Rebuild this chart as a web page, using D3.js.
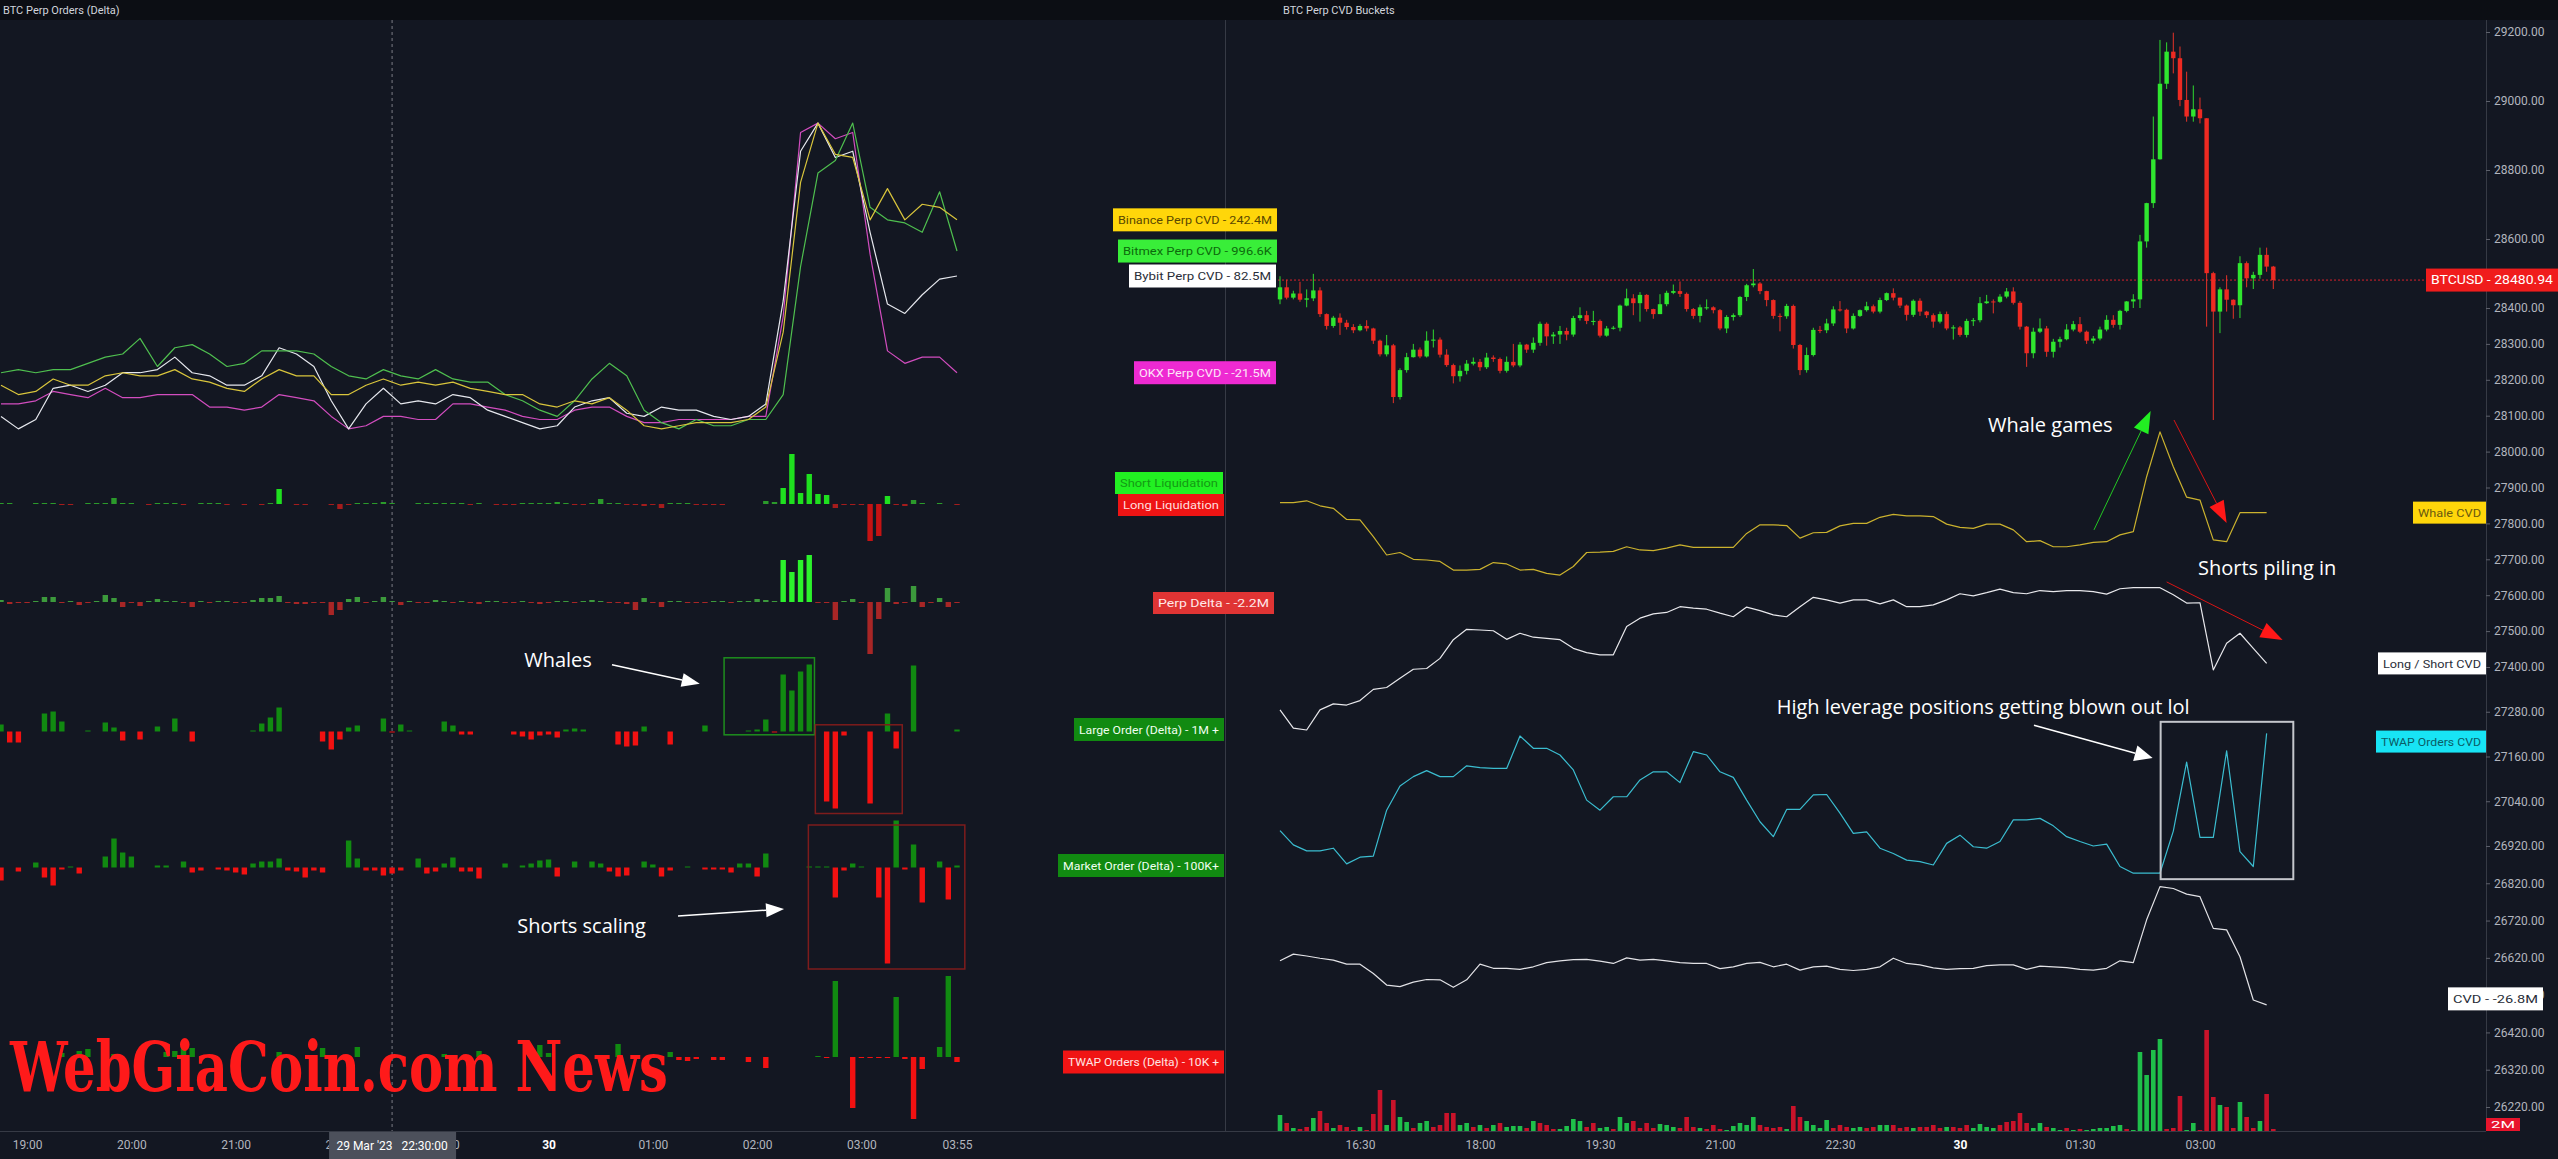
<!DOCTYPE html>
<html>
<head>
<meta charset="utf-8">
<script src="https://cdn.jsdelivr.net/npm/d3@7"></script>
<style>
html,body{margin:0;padding:0;background:#131722;overflow:hidden;}
svg{display:block;font-family:Roboto,"Noto Sans",sans-serif;}
</style>
</head>
<body>
<div id="chart"></div>
<script>

//******************************************************************************
//**  Data
//******************************************************************************

//Left panel: 5 minute buckets from 18:45 to 03:55, lines sampled every 10 min
var binanceCvd = [15,12,13,17,15,15,18,19,18,18,20,17,16,14,13,17,20,18,18,12,12,15,17,15,16,15,16,14,13,12,12,9,8,10,9,11,7,2,1,2,3,3,3,4,8,32,80,99,89,88,68,78,68,73,72,68];
var bitmexCvd  = [19,20,19,20,20,22,24,25,30,21,27,28,25,21,22,26,26,26,25,21,18,17,20,18,17,20,17,16,16,12,10,7,5,10,17,22,18,7,3,1,4,2,2,4,4,12,53,83,87,99,72,68,67,64,77,58];
var bybitCvd   = [5,1,4,14,15,13,15,19,19,20,24,19,18,15,15,18,27,25,21,10,1,9,14,9,10,9,12,11,7,5,3,1,2,8,10,11,6,5,8,7,7,5,4,5,9,42,90,99,88,90,64,41,38,44,49,50];
var okxCvd     = [9,9,10,13,12,11,14,11,11,12,12,12,8,8,7,8,12,11,10,5,1,2,5,5,4,4,9,9,8,7,5,4,4,7,8,8,5,3,3,4,4,4,4,5,5,37,96,99,94,96,57,26,22,24,24,19];

var liquidations = [1,1,0,0,1,1,1,-1,-1,0,1,1,1,6,1,1,0,-1,1,1,1,-1,0,1,1,1,-1,0,-1,0,-1,1,15,0,-1,-1,0,0,-1,-5,-1,1,1,1,2,1,0,0,1,1,1,1,1,1,-1,1,0,-1,-1,-1,1,1,1,1,2,1,-1,-1,1,5,1,1,-1,-1,-2,-1,-4,1,1,1,-1,-1,-1,-1,0,0,0,0,3,2,16,50,11,30,10,9,-4,-1,-1,-1,-37,-32,8,-1,-2,4,1,0,1,0,-1];
var perpDelta = [2,-2,-1,-1,1,5,5,-1,1,-3,-1,1,7,4,-5,-1,-4,1,3,1,1,-1,-5,1,-1,1,1,-1,-1,2,4,4,6,-1,-2,-2,-1,-1,-13,-8,3,5,-1,1,5,1,-3,1,-1,-1,2,1,-1,1,-1,-2,1,1,-1,-1,1,-1,-2,-1,1,1,-1,1,2,1,-1,-1,-2,-8,4,-1,-5,1,1,-1,-1,-1,1,1,-1,1,1,3,2,1,42,30,42,47,-1,-1,-18,1,3,-1,-52,-17,14,-2,-1,16,-5,-1,4,-5,-1];
var largeOrders = [7,-11,-11,0,0,18,20,10,0,0,1,0,9,4,-9,0,-8,0,5,0,13,0,-10,0,0,0,0,0,0,1,8,14,24,0,0,0,0,-10,-18,-8,4,6,0,0,13,-1,7,1,0,0,0,10,6,-3,-3,0,0,0,0,-3,-5,-8,-4,-3,-6,2,3,2,0,0,0,-13,-15,-14,5,0,0,-13,0,0,0,6,0,0,0,0,1,2,12,-1,57,41,60,67,0,-70,-77,-4,0,0,-72,0,18,-17,0,66,0,0,0,0,2];
var marketOrders = [-13,0,-4,0,5,-10,-18,-2,1,-6,0,0,11,29,15,11,0,0,2,2,0,6,-5,-3,0,-2,-3,-5,-7,4,6,6,9,-3,-4,-10,-3,-5,0,0,27,9,-3,-3,-8,-6,-3,0,9,-6,-4,4,10,-4,-4,-11,0,0,4,0,2,4,7,8,-9,0,6,0,6,4,-4,-9,-8,0,6,3,-9,-3,0,1,0,-2,-2,-2,-5,4,4,-9,14,0,0,0,0,1,1,1,-30,-3,4,1,0,-30,-96,47,-2,23,-35,0,6,-32,2];
var twapOrders = [0,0,0,0,0,0,0,4,0,6,8,0,0,3,0,0,0,0,0,5,6,15,9,0,0,0,0,3,0,0,0,0,5,0,0,0,0,9,0,0,0,10,0,0,0,0,0,0,0,0,0,3,0,0,0,6,0,0,0,0,0,0,12,4,0,0,0,0,0,0,0,13,0,0,0,-1,0,5,-3,-4,-2,0,-3,-3,0,0,-5,0,-11,0,0,0,0,0,1,-1,76,0,-51,-1,-1,-1,-1,60,-2,-62,-12,0,10,81,-5];

//Right panel: 5 minute candles from 15:30 to 03:55
var firstOpen = 28425;
var candleClose = [28460,28430,28442,28424,28428,28451,28383,28350,28373,28359,28347,28338,28350,28343,28309,28271,28296,28152,28227,28263,28284,28265,28309,28312,28270,28241,28210,28225,28245,28250,28235,28262,28258,28225,28250,28240,28298,28284,28303,28356,28321,28326,28336,28326,28372,28380,28364,28364,28323,28343,28345,28407,28428,28414,28438,28397,28383,28411,28444,28449,28441,28397,28378,28402,28402,28394,28343,28375,28380,28432,28466,28471,28449,28423,28378,28377,28406,28297,28227,28269,28339,28338,28357,28396,28395,28343,28378,28394,28405,28390,28423,28443,28430,28407,28381,28421,28390,28380,28362,28383,28343,28346,28325,28364,28366,28414,28419,28418,28433,28448,28415,28348,28274,28334,28343,28278,28306,28313,28340,28355,28334,28309,28315,28340,28367,28353,28392,28419,28425,28593,28704,28831,29050,29143,29124,29003,28955,28976,28950,28501,28390,28454,28424,28408,28530,28486,28496,28554,28520,28481];
var candleHigh = [28492,28482,28450,28476,28454,28499,28460,28385,28378,28385,28367,28355,28355,28366,28345,28312,28325,28300,28232,28275,28300,28290,28335,28340,28318,28285,28245,28240,28255,28262,28258,28275,28268,28262,28265,28300,28305,28300,28318,28362,28360,28333,28350,28345,28378,28402,28392,28392,28368,28350,28350,28410,28456,28440,28446,28440,28398,28440,28450,28468,28477,28445,28400,28410,28425,28405,28397,28380,28385,28435,28470,28513,28475,28450,28425,28385,28412,28410,28300,28290,28345,28350,28370,28405,28420,28398,28385,28396,28418,28410,28430,28445,28457,28430,28410,28425,28428,28392,28385,28390,28390,28352,28350,28370,28372,28432,28438,28425,28440,28458,28460,28420,28350,28345,28371,28350,28314,28320,28355,28364,28375,28337,28322,28348,28380,28380,28395,28420,28440,28612,28705,28955,29177,29170,29198,29158,29085,29045,29010,28950,28505,28460,28495,28425,28550,28535,28505,28575,28575,28522];
var candleLow = [28411,28425,28425,28418,28402,28420,28375,28340,28345,28325,28340,28330,28335,28335,28300,28265,28265,28135,28145,28220,28262,28260,28262,28290,28262,28236,28190,28195,28215,28240,28225,28230,28250,28218,28220,28235,28235,28275,28275,28295,28295,28300,28300,28310,28320,28365,28355,28352,28318,28320,28340,28335,28405,28380,28362,28390,28370,28383,28405,28440,28432,28390,28370,28360,28395,28385,28338,28330,28365,28375,28420,28460,28440,28405,28370,28335,28370,28287,28213,28220,28265,28330,28330,28350,28390,28330,28340,28375,28390,28385,28385,28420,28422,28400,28365,28375,28378,28372,28345,28357,28338,28312,28320,28318,28350,28360,28412,28385,28415,28428,28410,28340,28236,28260,28330,28264,28262,28290,28310,28335,28330,28300,28301,28310,28335,28345,28340,28388,28400,28400,28575,28690,28830,29035,29080,28985,28940,28940,28935,28348,28088,28330,28390,28370,28372,28460,28455,28485,28505,28455];
//signed volume: positive = buy bar, negative = sell bar
var volume = [16,-8,3,-2,-4,13,-20,-8,3,-6,-4,-1,4,-1,-17,-41,6,-31,14,9,-3,8,10,-4,-6,-18,-18,6,8,-4,6,-3,6,-8,4,5,5,-3,10,-8,-6,-2,2,5,12,10,-4,-8,3,4,-2,14,8,-10,-3,-8,-3,7,6,4,-3,-14,-4,3,-2,-6,-2,1,5,8,6,14,-6,-4,-3,-4,2,-25,-14,10,6,3,11,-3,-6,-4,3,4,-3,-4,6,6,-6,-3,-4,3,-4,-4,-6,-3,4,-4,-3,-6,3,7,4,3,-6,-9,-10,-18,-8,3,8,-4,3,1,-3,1,-2,1,2,3,3,5,6,-2,1,79,56,81,92,-2,-3,-35,1,8,-1,-101,-34,26,-24,-3,29,-14,-3,10,-37,-2];

//CVD buckets sampled every 10 min, read against the shared price axis
var whaleCvd = [27858,27858,27863,27849,27842,27811,27810,27763,27712,27719,27700,27698,27694,27670,27670,27672,27691,27687,27670,27672,27661,27656,27680,27719,27720,27722,27735,27726,27724,27731,27740,27733,27733,27733,27733,27772,27796,27796,27794,27759,27774,27775,27793,27800,27800,27817,27825,27821,27821,27819,27798,27789,27786,27798,27798,27782,27749,27752,27735,27735,27740,27747,27749,27768,27777,27930,28055,27958,27873,27865,27754,27749,27830,27830,27830];
var longShortCvd = [27285,27236,27231,27285,27301,27298,27310,27340,27345,27370,27394,27396,27424,27476,27505,27503,27501,27477,27494,27483,27480,27476,27452,27440,27434,27434,27513,27536,27548,27552,27568,27564,27561,27550,27540,27567,27557,27545,27540,27568,27594,27587,27578,27587,27587,27576,27587,27568,27568,27573,27587,27604,27598,27607,27617,27607,27604,27613,27610,27613,27613,27610,27603,27618,27621,27621,27621,27601,27578,27579,27392,27466,27494,27452,27410];
var twapCvd = [26961,26923,26907,26907,26914,26872,26890,26893,27016,27081,27106,27122,27106,27106,27135,27130,27128,27128,27215,27182,27182,27164,27124,27043,27016,27052,27052,27097,27119,27119,27090,27173,27164,27119,27104,27043,26985,26945,27018,27018,27057,27058,27008,26954,26958,26914,26900,26882,26878,26869,26927,26949,26918,26914,26932,26990,26990,26994,26974,26945,26932,26920,26925,26865,26847,26847,26847,26960,27145,26943,26943,27175,26905,26865,27222];
var cvd = [26612,26630,26625,26619,26614,26603,26603,26578,26547,26543,26555,26562,26561,26541,26561,26603,26592,26592,26589,26596,26607,26612,26615,26616,26611,26605,26620,26614,26616,26612,26607,26605,26605,26591,26596,26605,26608,26596,26603,26587,26596,26598,26589,26586,26589,26596,26619,26605,26601,26593,26589,26591,26592,26599,26601,26601,26589,26598,26596,26594,26589,26587,26592,26612,26607,26722,26811,26806,26791,26784,26699,26695,26623,26507,26494];

var priceTicks = [29200,29000,28800,28600,28400,28300,28200,28100,28000,27900,27800,27700,27600,27500,27400,27280,27160,27040,26920,26820,26720,26620,26520,26420,26320,26220];
var lastPrice = 28480.94;
var leftTimeTicks = ["2023-03-29 19:00","2023-03-29 20:00","2023-03-29 21:00","2023-03-29 22:00","2023-03-29 23:00","2023-03-30 00:00","2023-03-30 01:00","2023-03-30 02:00","2023-03-30 03:00","2023-03-30 03:55"];
var rightTimeTicks = ["2023-03-29 16:30","2023-03-29 18:00","2023-03-29 19:30","2023-03-29 21:00","2023-03-29 22:30","2023-03-30 00:00","2023-03-30 01:30","2023-03-30 03:00"];


//******************************************************************************
//**  Chart
//******************************************************************************
var W = 2558, H = 1159;
var parseT = d3.timeParse("%Y-%m-%d %H:%M");
var step = 5*60*1000;
var leftStart = parseT("2023-03-29 18:45");
var rightStart = parseT("2023-03-29 15:30");
var endTime = parseT("2023-03-30 03:55");
var crossTime = parseT("2023-03-29 22:30");

var svg = d3.select("#chart").append("svg").attr("width", W).attr("height", H);
svg.append("rect").attr("width", W).attr("height", H).attr("fill", "#131722");

//Scales
var xL = d3.scaleTime().domain([leftStart, endTime]).range([1, 957]);
var xR = d3.scaleTime().domain([rightStart, endTime]).range([1280, 2273.3]);
var atL = function(i){ return xL(new Date(+leftStart + i*step)); };
var atR = function(j){ return xR(new Date(+rightStart + j*step)); };

var yLine = d3.scaleLinear().domain([0, 100]).range([432, 120]);
var paneScale = function(base){ return d3.scaleLinear().domain([0, 100]).range([base, base - 100]); };
var yLiq = paneScale(504), yPerp = paneScale(602), yLarge = paneScale(731.5),
    yMarket = paneScale(867.5), yTwap = paneScale(1057);
var yR = d3.scaleLinear().domain([29200, 28400, 27400, 26220]).range([32, 308, 667, 1107]);
var yVol = d3.scaleLinear().domain([0, 100]).range([1131, 1031]);


//Frame
svg.append("rect").attr("width", W).attr("height", 20).attr("fill", "#0c0e14");
svg.append("text").attr("x", 3).attr("y", 14).attr("fill", "#d1d4dc")
   .style("font-size", "11px").text("BTC Perp Orders (Delta)");
svg.append("text").attr("x", 1283).attr("y", 14).attr("fill", "#d1d4dc")
   .style("font-size", "11px").text("BTC Perp CVD Buckets");

var frame = svg.append("g").attr("stroke", "#363a45").attr("stroke-width", 1);
frame.append("line").attr("x1", 1225.5).attr("x2", 1225.5).attr("y1", 20).attr("y2", 1131);
frame.append("line").attr("x1", 0).attr("x2", 2486).attr("y1", 1131.5).attr("y2", 1131.5);
frame.append("line").attr("x1", 2486.5).attr("x2", 2486.5).attr("y1", 20).attr("y2", 1131);

//crosshair
svg.append("line").attr("x1", xL(crossTime)).attr("x2", xL(crossTime)).attr("y1", 20).attr("y2", 1131)
   .attr("stroke", "#7a7d86").attr("stroke-dasharray", "3,3").attr("stroke-width", 1);


//**************************************************************************
//** Left panel: exchange CVD lines
//**************************************************************************
var left = svg.append("g");
var lineL = d3.line().x(function(d, k){ return atL(k*2); }).y(function(d){ return yLine(d); });
[
  {data: okxCvd, color: "#d24dbf"},
  {data: bybitCvd, color: "#e6e8ee"},
  {data: bitmexCvd, color: "#4fbf4f"},
  {data: binanceCvd, color: "#d9c53c"}
].forEach(function(s){
    left.append("path").datum(s.data).attr("d", lineL).attr("fill", "none")
        .attr("stroke", s.color).attr("stroke-width", 1.2).attr("stroke-linejoin", "round");
});


//**************************************************************************
//** Left panel: delta bar panes
//**************************************************************************
var panes = [
  {data: liquidations, y: yLiq, up: function(v){ return v >= 8 ? "#1fe01f" : "#2b9a2b"; }, down: function(v){ return v <= -8 ? "#c51313" : "#a51c1c"; }},
  {data: perpDelta, y: yPerp, up: function(v){ return v >= 20 ? "#2cf22c" : "#3c9a3c"; }, down: function(){ return "#a82626"; }},
  {data: largeOrders, y: yLarge, up: function(){ return "#118a11"; }, down: function(){ return "#f21111"; }},
  {data: marketOrders, y: yMarket, up: function(){ return "#118a11"; }, down: function(){ return "#f21111"; }},
  {data: twapOrders, y: yTwap, up: function(){ return "#118a11"; }, down: function(){ return "#f21111"; }}
];
panes.forEach(function(p){
    left.append("g").selectAll("rect")
        .data(p.data.map(function(v, i){ return {i: i, v: v}; }).filter(function(d){ return d.v !== 0; }))
        .enter().append("rect")
        .attr("x", function(d){ return atL(d.i) - 2.7; })
        .attr("width", 5.4)
        .attr("y", function(d){ return Math.min(p.y(d.v), p.y(0)); })
        .attr("height", function(d){ return Math.abs(p.y(d.v) - p.y(0)); })
        .attr("fill", function(d){ return d.v > 0 ? p.up(d.v) : p.down(d.v); });
});


//**************************************************************************
//** Right panel: candles, volume, CVD buckets
//**************************************************************************
var right = svg.append("g");

//last price line
right.append("line").attr("x1", 1226).attr("x2", 2486).attr("y1", yR(lastPrice)).attr("y2", yR(lastPrice))
     .attr("stroke", "#d8202c").attr("stroke-dasharray", "2,2").attr("stroke-width", 1);

var candles = candleClose.map(function(c, j){
    var o = j === 0 ? firstOpen : candleClose[j-1];
    return {j: j, o: o, c: c, h: Math.max(candleHigh[j], o, c), l: Math.min(candleLow[j], o, c)};
});
var cg = right.append("g");
cg.selectAll("line").data(candles).enter().append("line")
  .attr("x1", function(d){ return atR(d.j); }).attr("x2", function(d){ return atR(d.j); })
  .attr("y1", function(d){ return yR(d.h); }).attr("y2", function(d){ return yR(d.l); })
  .attr("stroke", function(d){ return d.c >= d.o ? "#2fd92f" : "#e53228"; }).attr("stroke-width", 1);
cg.selectAll("rect").data(candles).enter().append("rect")
  .attr("x", function(d){ return atR(d.j) - 2.2; }).attr("width", 4.4)
  .attr("y", function(d){ return yR(Math.max(d.o, d.c)); })
  .attr("height", function(d){ return Math.max(1, Math.abs(yR(d.o) - yR(d.c))); })
  .attr("fill", function(d){ return d.c >= d.o ? "#2fe62f" : "#ee2a22"; });

//volume
right.append("g").selectAll("rect").data(volume).enter().append("rect")
  .attr("x", function(d, j){ return atR(j) - 2.3; }).attr("width", 4.6)
  .attr("y", function(d){ return yVol(Math.abs(d)); })
  .attr("height", function(d){ return yVol(0) - yVol(Math.abs(d)); })
  .attr("fill", function(d){ return d > 0 ? "#1fbf4a" : "#c9132a"; });

//cvd buckets
var lineR = d3.line().x(function(d, k){ return atR(k*2); }).y(function(d){ return yR(d); });
[
  {data: whaleCvd, color: "#cbb22e"},
  {data: longShortCvd, color: "#e8e8ec"},
  {data: twapCvd, color: "#3bbdd0"},
  {data: cvd, color: "#e2e2e6"}
].forEach(function(s){
    right.append("path").datum(s.data).attr("d", lineR).attr("fill", "none")
         .attr("stroke", s.color).attr("stroke-width", 1.2).attr("stroke-linejoin", "round");
});


//**************************************************************************
//** Axes
//**************************************************************************
var isDay = function(d){ return d.getHours() === 0 && d.getMinutes() === 0; };
var fmtTime = function(d){ return isDay(d) ? d3.timeFormat("%-d")(d) : d3.timeFormat("%H:%M")(d); };
var styleTimeAxis = function(g){
    g.select(".domain").remove();
    g.selectAll("text").style("font-size", "12px").style("font-family", "Roboto, sans-serif")
     .style("font-weight", function(d){ return isDay(d) ? "bold" : "normal"; })
     .attr("fill", function(d){ return isDay(d) ? "#ffffff" : "#b2b5be"; });
};
svg.append("g").attr("transform", "translate(0,1131)")
   .call(d3.axisBottom(xL).tickValues(leftTimeTicks.map(parseT)).tickFormat(fmtTime).tickSize(0).tickPadding(9))
   .call(styleTimeAxis);
svg.append("g").attr("transform", "translate(0,1131)")
   .call(d3.axisBottom(xR).tickValues(rightTimeTicks.map(parseT)).tickFormat(fmtTime).tickSize(0).tickPadding(9))
   .call(styleTimeAxis);

var pAxis = svg.append("g").attr("transform", "translate(2486,0)")
   .call(d3.axisRight(yR).tickValues(priceTicks).tickFormat(d3.format(".2f")).tickSize(4).tickPadding(4));
pAxis.select(".domain").remove();
pAxis.selectAll("line").attr("stroke", "#5d606b");
pAxis.selectAll("text").attr("fill", "#b2b5be").style("font-size", "12px").style("font-family", "Roboto, sans-serif");

//crosshair time label
var cx = xL(crossTime);
svg.append("rect").attr("x", cx - 63).attr("y", 1132).attr("width", 127).attr("height", 27).attr("fill", "#4c505b");
svg.append("text").attr("x", cx).attr("y", 1146).attr("dy", "0.35em").attr("text-anchor", "middle")
   .attr("fill", "#ffffff").style("font-size", "12px").attr("xml:space", "preserve").text("29 Mar '23   22:30:00");


//**************************************************************************
//** Value tags
//**************************************************************************
var tags = svg.append("g");
var tag = function(x0, x1, yc, h, fill, color, text, fs){
    tags.append("rect").attr("x", x0).attr("y", yc - h/2).attr("width", x1 - x0).attr("height", h).attr("fill", fill);
    tags.append("text").attr("x", (x0 + x1)/2).attr("y", yc).attr("dy", "0.36em").attr("text-anchor", "middle")
        .attr("fill", color).style("font-size", fs || "11.5px")
        .attr("textLength", x1 - x0 - 10).attr("lengthAdjust", "spacingAndGlyphs").text(text);
};
var last = function(a){ return a[a.length - 1]; };

tag(1113, 1277, yLine(last(binanceCvd)), 23, "#ffd60a", "#5a4800", "Binance Perp CVD  -  242.4M");
tag(1118, 1277, yLine(last(bitmexCvd)), 23, "#39ee39", "#0c6a0c", "Bitmex Perp CVD  -  996.6K");
tag(1129, 1276, yLine(last(bybitCvd)), 23, "#ffffff", "#2a2e39", "Bybit Perp CVD  -  82.5M");
tag(1134, 1276, yLine(last(okxCvd)), 23, "#ee2ad2", "#fde6f8", "OKX Perp CVD  -  -21.5M");
tag(1115, 1223, yLiq(21), 22, "#22f022", "#149a14", "Short Liquidation");
tag(1118, 1224, yLiq(-1), 22, "#ee1414", "#ffdede", "Long Liquidation");
tag(1153, 1274, yPerp(last(perpDelta)), 22, "#e03434", "#ffe8e8", "Perp Delta  -  -2.2M");
tag(1074, 1224, yLarge(last(largeOrders)), 23, "#118a11", "#f0fff0", "Large Order (Delta) - 1M +");
tag(1058, 1224, yMarket(last(marketOrders)), 23, "#118a11", "#f0fff0", "Market Order (Delta) - 100K+");
tag(1063, 1224, yTwap(last(twapOrders)), 23, "#f01414", "#ffe4e4", "TWAP Orders (Delta) - 10K +");

tag(2426, 2558, yR(lastPrice), 23, "#f01c1c", "#ffffff", "BTCUSD  -  28480.94", "12px");
tag(2413, 2486, yR(last(whaleCvd)), 22, "#ffd60a", "#6a5a10", "Whale CVD");
tag(2378, 2486, yR(last(longShortCvd)), 22, "#ffffff", "#2a2e39", "Long / Short CVD");
tag(2376, 2486, yR(27200), 22, "#18e4f5", "#0b5c66", "TWAP Orders CVD");
tag(2448, 2543, yR(26510), 23, "#ffffff", "#2a2e39", "CVD  -  -26.8M");
tag(2486, 2520, 1124.5, 13, "#e8142c", "#ffffff", "2M", "9px");


//**************************************************************************
//** Annotations
//**************************************************************************
var notes = svg.append("g");
var arrow = function(x1, y1, x2, y2, lineColor, headColor, len, wid, sw){
    var a = Math.atan2(y2 - y1, x2 - x1);
    var bx = x2 - len*Math.cos(a), by = y2 - len*Math.sin(a);
    notes.append("line").attr("x1", x1).attr("y1", y1).attr("x2", bx).attr("y2", by)
         .attr("stroke", lineColor).attr("stroke-width", sw || 1.5);
    var pts = [[x2, y2], [bx + wid*Math.sin(a), by - wid*Math.cos(a)], [bx - wid*Math.sin(a), by + wid*Math.cos(a)]];
    notes.append("polygon").attr("points", pts.map(function(p){ return p.join(","); }).join(" ")).attr("fill", headColor);
};
var note = function(x, y, text){
    notes.append("text").attr("x", x).attr("y", y).attr("dy", "0.35em").attr("fill", "#ffffff")
         .style("font-family", "'Open Sans', sans-serif").style("font-size", "20px").text(text);
};
var box = function(x0, y0, x1, y1, color, sw){
    notes.append("rect").attr("x", x0).attr("y", y0).attr("width", x1 - x0).attr("height", y1 - y0)
         .attr("fill", "none").attr("stroke", color).attr("stroke-width", sw || 1.5);
};

//left panel
box(atL(83.2), yLarge(73.7), atL(93.6), yLarge(-3.3), "#1e8e1e");
box(atL(93.7), yLarge(6.7), atL(103.7), yLarge(-82), "#7e1c1c");
box(atL(92.9), yMarket(42.5), atL(110.9), yMarket(-101.5), "#7e1c1c");
note(atL(60.2), yLarge(71.7), "Whales");
arrow(atL(70.3), yLarge(66.7), atL(80.4), yLarge(47.7), "#ffffff", "#ffffff", 18, 7, 1.5);
note(atL(59.4), yMarket(-58.5), "Shorts scaling");
arrow(atL(77.9), yMarket(-48.5), atL(90.1), yMarket(-41.5), "#ffffff", "#ffffff", 18, 7, 1.5);

//right panel
note(atR(106.2), yR(28074), "Whale games");
arrow(atR(122.1), yR(27782), atR(130.6), yR(28113), "#23c723", "#22ee22", 22, 8, 1);
arrow(atR(134.1), yR(28088), atR(142.0), yR(27801), "#d81414", "#ff1818", 22, 8, 1);
note(atR(137.7), yR(27676), "Shorts piling in");
arrow(atR(133.0), yR(27637), atR(150.4), yR(27475), "#d81414", "#ff1818", 22, 8, 1);
note(atR(74.5), yR(27293), "High leverage positions getting blown out lol");
arrow(atR(113.1), yR(27244), atR(130.9), yR(27156), "#ffffff", "#ffffff", 18, 8, 1.5);
box(atR(132.1), yR(27253), atR(152), yR(26831), "#c4c6cc", 2);

//watermark
svg.append("text").attr("x", 10).attr("y", 1091).attr("fill", "#ff1a1a")
   .style("font-family", "'DejaVu Serif', serif").style("font-weight", "bold").style("font-stretch", "condensed")
   .style("font-size", "70px").attr("textLength", 658).attr("lengthAdjust", "spacingAndGlyphs")
   .text("WebGiaCoin.com News");

</script>
</body>
</html>
